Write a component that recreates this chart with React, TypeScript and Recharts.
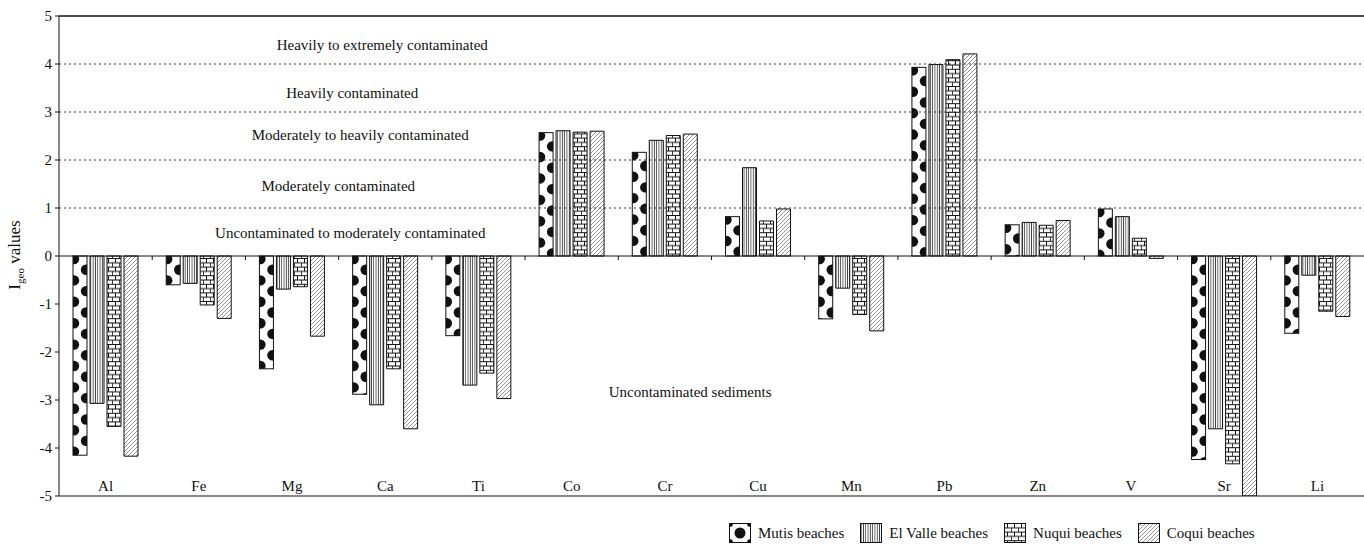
import React from "react";
import {
  BarChart,
  Bar,
  XAxis,
  YAxis,
  ReferenceLine,
  ReferenceDot,
} from "recharts";

const categories = ["Al", "Fe", "Mg", "Ca", "Ti", "Co", "Cr", "Cu", "Mn", "Pb", "Zn", "V", "Sr", "Li"];
const mutis = [-4.15, -0.6, -2.35, -2.88, -1.66, 2.57, 2.16, 0.82, -1.31, 3.93, 0.65, 0.98, -4.24, -1.61];
const elValle = [-3.07, -0.57, -0.69, -3.1, -2.69, 2.61, 2.41, 1.84, -0.67, 3.99, 0.7, 0.82, -3.6, -0.4];
const nuqui = [-3.55, -1.02, -0.64, -2.35, -2.44, 2.58, 2.51, 0.73, -1.22, 4.09, 0.64, 0.37, -4.33, -1.15];
const coqui = [-4.17, -1.3, -1.67, -3.6, -2.97, 2.6, 2.54, 0.98, -1.56, 4.21, 0.74, -0.05, -5, -1.26];
const yTicks = [-5, -4, -3, -2, -1, 0, 1, 2, 3, 4, 5];
const classBounds = [1, 2, 3, 4];

// zone captions: text, category it hangs off, value it sits at
const zoneText = ["Heavily to extremely contaminated", "Heavily contaminated", "Moderately to heavily contaminated", "Moderately contaminated", "Uncontaminated to moderately contaminated", "Uncontaminated sediments"];
const zoneCat = ["Ca", "Ca", "Ca", "Ca", "Ca", "Cu"];
const zoneY = [4.4, 3.4, 2.52, 1.46, 0.48, -2.83];
const zoneDx = [-3, -33, -25, -47, -35, -68];

const legendNames = ["Mutis beaches", "El Valle beaches", "Nuqui beaches", "Coqui beaches"];

const data = categories.map((c, i) => ({
  el: c,
  mutis: mutis[i],
  elValle: elValle[i],
  nuqui: nuqui[i],
  coqui: coqui[i],
}));

const W = 1364;
const H = 545;
const LEFT = 59;
const TOP = 16;
const BOTTOM = 496;
const BAND = (W - LEFT) / categories.length;
const FONT = "'Times New Roman', 'Liberation Serif', Tinos, 'DejaVu Serif', serif";
const INK = "#111";

function MutisShape(props: any) {
  const { x, y, width, height, index } = props;
  const top = height < 0 ? y + height : y;
  const h = Math.abs(height);
  const id = `mutis-clip-${index}`;
  const dots = [];
  const step = 10.7;
  for (let k = 0; k * step < h + 6; k++) {
    const cy = top + 3 + k * step;
    const cx = k % 2 === 0 ? x + 1 : x + width - 1;
    dots.push(<circle key={k} cx={cx} cy={cy} r={5.2} fill={INK} />);
  }
  return (
    <g>
      <defs>
        <clipPath id={id}>
          <rect x={x} y={top} width={width} height={h} />
        </clipPath>
      </defs>
      <rect x={x} y={top} width={width} height={h} fill="#fff" />
      <g clipPath={`url(#${id})`}>{dots}</g>
      <rect x={x} y={top} width={width} height={h} fill="none" stroke={INK} strokeWidth={1} />
    </g>
  );
}

function CatTick(props: any) {
  const { x, payload } = props;
  return (
    <text x={x} y={BOTTOM - 10} textAnchor="middle" dominantBaseline="central" fontFamily={FONT} fontSize={15} fill={INK}>
      {payload.value}
    </text>
  );
}

function YLabel() {
  return (
    <text transform="translate(20,255) rotate(-90)" textAnchor="middle" fontFamily={FONT} fontSize={17} fill={INK}>
      <tspan>I</tspan>
      <tspan dy={4} fontSize={11}>geo</tspan>
      <tspan dy={-4}> values</tspan>
    </text>
  );
}

function Swatch({ kind }: { kind: number }) {
  const fills = ["#fff", "url(#pat-valle)", "url(#pat-nuqui)", "url(#pat-coqui)"];
  return (
    <svg width={22} height={20} style={{ display: "block" }}>
      <rect x={0.5} y={0.5} width={21} height={19} fill={fills[kind]} stroke={INK} />
      {kind === 0 && (
        <g fill={INK}>
          <circle cx={11} cy={10} r={5.5} />
          <circle cx={0.5} cy={0.5} r={3.5} />
          <circle cx={21.5} cy={0.5} r={3.5} />
          <circle cx={0.5} cy={19.5} r={3.5} />
          <circle cx={21.5} cy={19.5} r={3.5} />
        </g>
      )}
    </svg>
  );
}

export default function App() {
  return (
    <div style={{ position: "relative", width: W, height: H, background: "#fff", fontFamily: FONT }}>
      <style>{`body{margin:0}`}</style>
      <BarChart
        width={W}
        height={H}
        data={data}
        margin={{ top: TOP, right: 0, bottom: H - BOTTOM - 1, left: 0 }}
        barSize={14}
        barGap={3}
        style={{ fontFamily: FONT }}
      >
        <defs>
          <pattern id="pat-valle" patternUnits="userSpaceOnUse" width={2.3} height={4}>
            <rect width={2.3} height={4} fill="#fff" />
            <line x1={1.1} y1={0} x2={1.1} y2={4} stroke="#333" strokeWidth={0.8} />
          </pattern>
          <pattern id="pat-nuqui" patternUnits="userSpaceOnUse" width={7} height={8.6}>
            <rect width={7} height={8.6} fill="#fff" />
            <line x1={0} y1={0.5} x2={7} y2={0.5} stroke={INK} strokeWidth={1} />
            <line x1={0} y1={4.8} x2={7} y2={4.8} stroke={INK} strokeWidth={1} />
            <line x1={3.5} y1={0.5} x2={3.5} y2={4.8} stroke={INK} strokeWidth={1} />
            <line x1={0.3} y1={4.8} x2={0.3} y2={8.6} stroke={INK} strokeWidth={1} />
          </pattern>
          <pattern id="pat-coqui" patternUnits="userSpaceOnUse" width={4} height={4}>
            <rect width={4} height={4} fill="#fff" />
            <path d="M-1,1 l2,-2 M0,4 l4,-4 M3,5 l2,-2" stroke="#666" strokeWidth={0.7} />
          </pattern>
        </defs>
        <XAxis
          dataKey="el"
          height={1}
          axisLine={{ stroke: INK, strokeWidth: 1.2 }}
          tickLine={false}
          tick={<CatTick />}
          interval={0}
        />
        <YAxis
          width={LEFT}
          domain={[-5, 5]}
          ticks={yTicks}
          interval={0}
          allowDataOverflow
          axisLine={{ stroke: INK }}
          tickLine={{ stroke: INK }}
          tickSize={4}
          tickMargin={3}
          tick={{ fontFamily: FONT, fontSize: 15, fill: INK }}
          label={<YLabel />}
        />
        {classBounds.map((v) => (
          <ReferenceLine key={v} y={v} stroke="#333" strokeDasharray="2 3" />
        ))}
        <ReferenceLine y={5} stroke={INK} strokeWidth={1.5} />
        <ReferenceLine y={0} stroke={INK} />
        {categories.slice(1).map((c) => (
          <ReferenceDot
            key={`t-${c}`}
            x={c}
            y={0}
            r={0}
            shape={(p: any) => (
              <line x1={p.cx - BAND / 2} x2={p.cx - BAND / 2} y1={p.cy} y2={p.cy + 4} stroke={INK} />
            )}
          />
        ))}
        {zoneText.map((t, i) => (
          <ReferenceDot
            key={t}
            x={zoneCat[i]}
            y={zoneY[i]}
            r={0}
            shape={(p: any) => (
              <text x={p.cx + zoneDx[i]} y={p.cy} textAnchor="middle" dominantBaseline="central" fontFamily={FONT} fontSize={15} fill={INK}>
                {t}
              </text>
            )}
          />
        ))}
        <Bar dataKey="mutis" shape={<MutisShape />} isAnimationActive={false} />
        <Bar dataKey="elValle" fill="url(#pat-valle)" stroke={INK} strokeWidth={1} isAnimationActive={false} />
        <Bar dataKey="nuqui" fill="url(#pat-nuqui)" stroke={INK} strokeWidth={1} isAnimationActive={false} />
        <Bar dataKey="coqui" fill="url(#pat-coqui)" stroke={INK} strokeWidth={1} isAnimationActive={false} />
      </BarChart>
      <div
        style={{
          position: "absolute",
          left: 729,
          top: 523,
          display: "flex",
          alignItems: "center",
          fontFamily: FONT,
          fontSize: 15,
          color: INK,
          whiteSpace: "nowrap",
        }}
      >
        {legendNames.map((n, i) => (
          <div key={n} style={{ display: "flex", alignItems: "center", marginRight: 16 }}>
            <Swatch kind={i} />
            <span style={{ marginLeft: 7 }}>{n}</span>
          </div>
        ))}
      </div>
    </div>
  );
}
